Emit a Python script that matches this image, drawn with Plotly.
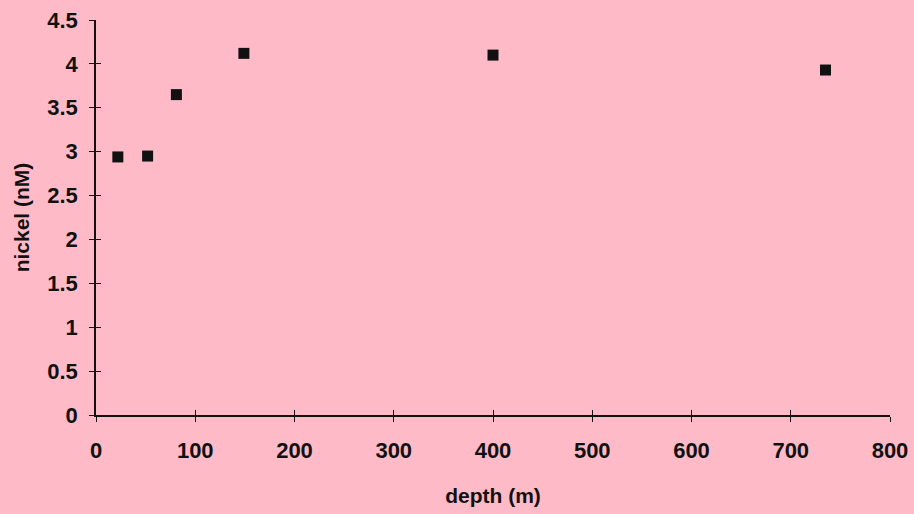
import plotly.graph_objects as go

depth = [22, 52, 81, 149, 400, 735]
nickel = [2.94, 2.95, 3.65, 4.12, 4.10, 3.93]
x_ticks = [0, 100, 200, 300, 400, 500, 600, 700, 800]
y_ticks = [0, 0.5, 1, 1.5, 2, 2.5, 3, 3.5, 4, 4.5]
y_ticktext = ["0", "0.5", "1", "1.5", "2", "2.5", "3", "3.5", "4", "4.5"]

bg = "#FEBBC7"
font_family = "Liberation Sans, Arial, sans-serif"

fig = go.Figure()
fig.add_trace(go.Scatter(
    x=depth, y=nickel, mode="markers",
    marker=dict(symbol="square", size=11, color="#111111"),
    showlegend=False, cliponaxis=False,
))
# invisible trace to anchor the secondary axes (inside ticks => crossing ticks)
fig.add_trace(go.Scatter(x=[None], y=[None], xaxis="x2", yaxis="y2",
                         showlegend=False, hoverinfo="skip"))

axis_common = dict(showgrid=False, zeroline=False, showline=True, automargin=False,
                   linecolor="#111111", linewidth=1.6,
                   ticks="outside", ticklen=5, tickwidth=1.4, tickcolor="#111111")

tick_font = dict(size=22, family=font_family, weight="bold", color="#111111")

fig.update_layout(
    width=914, height=514,
    margin=dict(l=96, r=24, t=20, b=99),
    paper_bgcolor=bg, plot_bgcolor=bg,
    font=dict(family=font_family, color="#111111", size=21),
    xaxis=dict(range=[0, 800], tickvals=x_ticks, ticktext=[str(v) for v in x_ticks],
               tickfont=tick_font, ticklabelstandoff=10,
               title=dict(text="<b>depth (m)</b>", font=dict(size=21, family=font_family),
                          standoff=26),
               **axis_common),
    yaxis=dict(range=[0, 4.5], tickvals=y_ticks, ticktext=y_ticktext,
               tickfont=tick_font, ticklabelstandoff=7,
               title=dict(text="<b>nickel (nM)</b>", font=dict(size=21, family=font_family),
                          standoff=12),
               **axis_common),
    xaxis2=dict(range=[0, 800], overlaying="x", anchor="y", tickvals=x_ticks,
                showticklabels=False, showgrid=False, zeroline=False, showline=False,
                ticks="inside", ticklen=5, tickwidth=1.4, tickcolor="#111111"),
    yaxis2=dict(range=[0, 4.5], overlaying="y", anchor="x", tickvals=y_ticks,
                showticklabels=False, showgrid=False, zeroline=False, showline=False,
                ticks="inside", ticklen=5, tickwidth=1.4, tickcolor="#111111"),
)

fig.write_html("out.html")
